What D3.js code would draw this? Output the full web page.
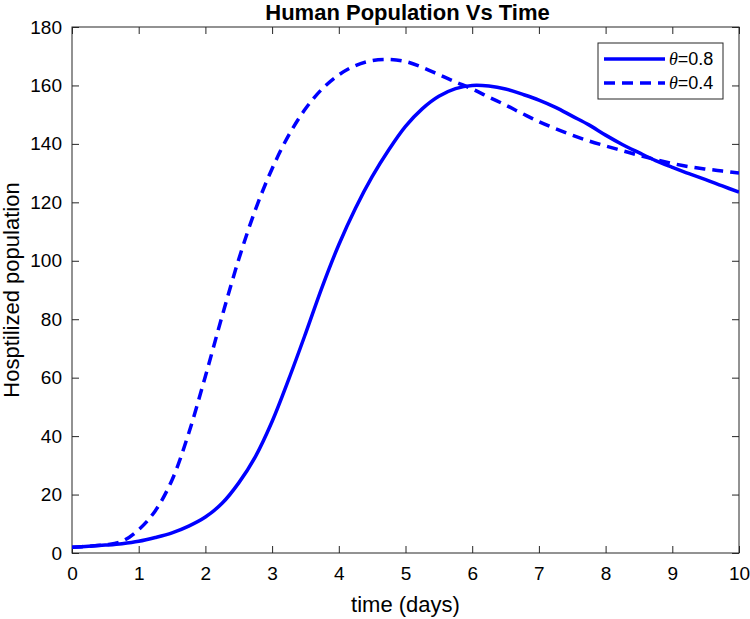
<!DOCTYPE html>
<html><head><meta charset="utf-8">
<script src="https://cdn.jsdelivr.net/npm/d3@7"></script>
<style>body{margin:0;background:#fff}svg text{font-family:"Liberation Sans",Arial,sans-serif}</style>
</head><body><svg id="c" width="750" height="619"></svg>
<script>
const times = [0,0.25,0.5,0.75,1,1.25,1.5,1.75,2,2.25,2.5,2.75,3,3.25,3.5,3.75,4,4.25,4.5,4.75,5,5.25,5.5,5.75,6,6.25,6.5,6.75,7,7.25,7.5,7.75,8,8.25,8.5,8.75,9,9.25,9.5,9.75,10];
const theta08 = [2,2.3,2.7,3.2,4,5.3,6.9,9.2,12.3,17,24,33,45,59.5,75,91,105.5,118,128.8,138,146,152,156.3,158.9,160,159.8,158.8,157,155,152.5,149.5,146.5,143,139.8,137,134.3,132,129.8,127.8,125.6,123.5];
const theta04 = [2,2.3,2.8,4,8,14.5,25,41,60.5,81,100.5,117.5,131.5,143,152,158.8,163.6,166.8,168.5,168.9,168.2,166.2,163.7,161.2,158.8,156,153.3,150.4,147.6,145.2,143,141,139.3,137.7,136.1,134.6,133.3,132.2,131.4,130.7,130];
const xTicks = [0,1,2,3,4,5,6,7,8,9,10];
const yTicks = [0,20,40,60,80,100,120,140,160,180];
const seriesNames = ["0.8","0.4"];

const svg = d3.select("#c");
const L=72, R=739, T=27, B=553;
const x = d3.scaleLinear().domain([0,10]).range([L,R]);
const y = d3.scaleLinear().domain([0,180]).range([B,T]);
const axc = "#262626";

svg.append("defs").append("clipPath").attr("id","clip").append("rect")
  .attr("x",L).attr("y",T).attr("width",R-L).attr("height",B-T);

function styleAxis(g){
  g.select(".domain").remove();
  g.selectAll(".tick line").attr("stroke",axc).attr("stroke-width",1);
  g.selectAll(".tick text").attr("fill","#000").style("font-size","19px").style("font-family","'Liberation Sans',Arial,sans-serif");
}
svg.append("g").attr("transform",`translate(0,${B})`)
  .call(d3.axisBottom(x).tickValues(xTicks).tickFormat(d3.format("d")).tickSizeInner(-7).tickSizeOuter(0).tickPadding(14))
  .call(styleAxis);
svg.append("g").attr("transform",`translate(0,${T})`)
  .call(d3.axisTop(x).tickValues(xTicks).tickFormat("").tickSizeInner(-7).tickSizeOuter(0))
  .call(styleAxis);
svg.append("g").attr("transform",`translate(${L},0)`)
  .call(d3.axisLeft(y).tickValues(yTicks).tickFormat(d3.format("d")).tickSizeInner(-7).tickSizeOuter(0).tickPadding(10))
  .call(styleAxis);
svg.append("g").attr("transform",`translate(${R},0)`)
  .call(d3.axisRight(y).tickValues(yTicks).tickFormat("").tickSizeInner(-7).tickSizeOuter(0))
  .call(styleAxis);
svg.append("rect").attr("x",L).attr("y",T).attr("width",R-L).attr("height",B-T)
  .attr("fill","none").attr("stroke",axc).attr("stroke-width",1);

const line = d3.line().x((d,i)=>x(times[i])).y(d=>y(d)).curve(d3.curveCatmullRom.alpha(0.5));
const plot = svg.append("g").attr("clip-path","url(#clip)");
plot.append("path").datum(theta04).attr("d",line).attr("fill","none").attr("stroke","#0000ff")
  .attr("stroke-width",3.5).attr("stroke-dasharray","11,7");
plot.append("path").datum(theta08).attr("d",line).attr("fill","none").attr("stroke","#0000ff")
  .attr("stroke-width",3.5);

svg.append("text").attr("x",(L+R)/2+2).attr("y",20).attr("text-anchor","middle")
  .style("font-size","22px").style("font-weight","bold").text("Human Population Vs Time");
svg.append("text").attr("x",(L+R)/2).attr("y",612).attr("text-anchor","middle")
  .style("font-size","22px").text("time (days)");
svg.append("text").attr("transform",`translate(19,${(T+B)/2}) rotate(-90)`).attr("text-anchor","middle")
  .style("font-size","22px").text("Hosptilized population");

// legend
const lg = svg.append("g");
lg.append("rect").attr("x",598).attr("y",43).attr("width",125).attr("height",56)
  .attr("fill","#fff").attr("stroke",axc).attr("stroke-width",1);
const styles = [null,"11,7"];
seriesNames.forEach((n,i)=>{
  const yy = 59 + i*24;
  const l = lg.append("line").attr("x1",604).attr("x2",665).attr("y1",yy).attr("y2",yy)
    .attr("stroke","#0000ff").attr("stroke-width",3.5);
  if(styles[i]) l.attr("stroke-dasharray",styles[i]);
  const t = lg.append("text").attr("x",669).attr("y",yy+6).style("font-size","18px");
  t.append("tspan").style("font-family","'Liberation Serif','Times New Roman',serif").style("font-style","italic").text("θ");
  t.append("tspan").text("=" + n);
});
</script></body></html>
